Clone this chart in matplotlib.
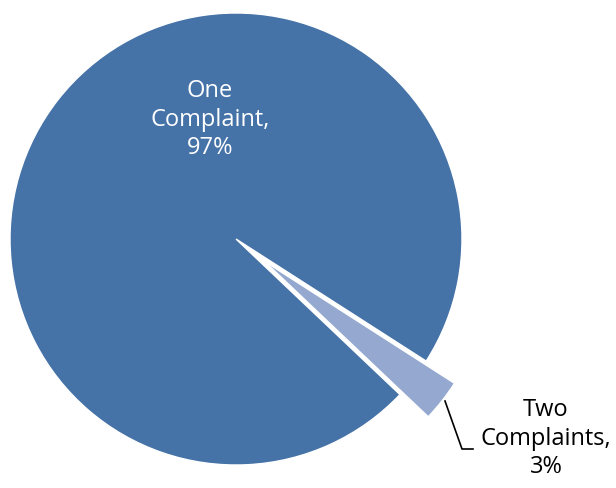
import matplotlib.pyplot as plt

labels = ["One\nComplaint,", "Two\nComplaints,"]
shares = [97, 3]
colors = ["#4572A7", "#95A9D0"]

W, H = 616, 489
fig = plt.figure(figsize=(W / 100, H / 100), dpi=100)
ax = fig.add_axes([0, 0, 1, 1])

R = 226
cx, cy = 236, H - 240
# explode is in data units here (pixels), pull the small slice out
explode = [0.0, 36]
ax.pie(shares, colors=colors, explode=explode, radius=R, center=(cx, cy),
       startangle=-43.5, counterclock=False, frame=True,
       wedgeprops=dict(edgecolor="white", linewidth=1.0))
ax.set_xlim(0, W)
ax.set_ylim(0, H)
ax.set_aspect("equal")
ax.axis("off")

font = ["Open Sans", "DejaVu Sans"]
ax.text(210, H - 120, f"{labels[0]}\n{shares[0]}%", ha="center", va="center",
        color="white", fontsize=17, family=font, linespacing=1.25)
ax.text(546, H - 439, f"{labels[1]}\n{shares[1]}%", ha="center", va="center",
        color="black", fontsize=17, family=font, linespacing=1.25)

# leader line from the small slice to its label
ax.plot([445, 462, 473], [H - 402, H - 450, H - 450], color="black", lw=1.2)

fig.savefig("out.png", dpi=100)
